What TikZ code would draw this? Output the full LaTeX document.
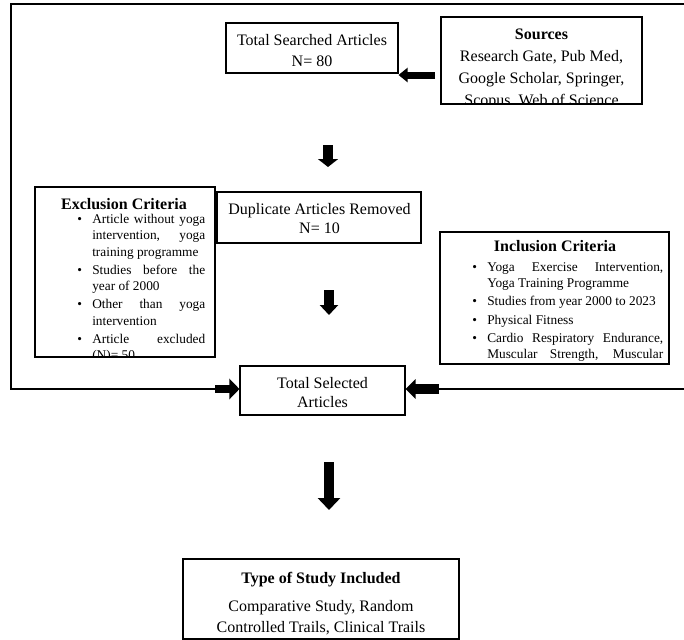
\documentclass[tikz,border=0pt]{standalone}
\usepackage{fontspec}
\setmainfont{Liberation Serif}
\usetikzlibrary{arrows.meta}
\newcommand\critem[1]{\par\noindent\hangindent=11.25pt\hangafter=1\makebox[11.25pt][l]{\textbullet}#1\par}
\begin{document}
\begin{tikzpicture}[x=0.75pt,y=-0.75pt,
  box/.style={draw=black, line width=0.8pt, rectangle, inner sep=0pt},
  frameline/.style={draw=black, line width=1.1pt},
  txt/.style={inner sep=0pt, font=\fontsize{12}{15.75}\selectfont, align=center, anchor=north},
  titletxt/.style={inner sep=0pt, font=\fontsize{12}{14}\selectfont\bfseries, anchor=north},
  listtxt/.style={inner sep=0pt, font=\fontsize{10}{12.3}\selectfont, anchor=north west, align=justify,
    execute at begin node={\tolerance=10000\hyphenpenalty=10000\parskip=1.3pt\relax}},
  blkarrow/.style n args={3}{draw=black, fill=black, line width=#1, -{Triangle[width=#2,length=#3]}}
]
\useasboundingbox (0,0) rectangle (684,639);

% boxes
\node[box, minimum width=129pt, minimum height=37.5pt] (tsa) at (312,48) {};
\node[box, minimum width=150.75pt, minimum height=65.25pt] (src) at (541.5,60.5) {};
\node[box, minimum width=153pt, minimum height=38.25pt] (dup) at (319,217.5) {};
\node[box, minimum width=135pt, minimum height=127.5pt] (exc) at (125,272) {};
\node[box, minimum width=171.75pt, minimum height=99pt] (inc) at (554.5,298) {};
\node[box, minimum width=123.75pt, minimum height=36.75pt] (tsel) at (322.5,390.5) {};
\node[box, minimum width=207pt, minimum height=60pt] (tos) at (321,599) {};

% box texts
\node[txt] (tsat) at (312,34.5) {Total Searched Articles\\N= 80};
\node[txt, font=\fontsize{12}{14.25}\selectfont] (dupt) at (319.5,203.5) {Duplicate Articles Removed\\N= 10};
\node[txt, font=\fontsize{12}{14.25}\selectfont] (tselt) at (322.5,377.5) {Total Selected\\Articles};
\node[txt] (tost) at (321,571.5) {\textbf{Type of Study Included}\\[5.25pt]Comparative Study, Random\\Controlled Trails, Clinical Trails};

% sources text (clipped)
\begin{scope}
  \clip (src.north west) rectangle (src.south east);
  \node[txt, font=\fontsize{12}{16.5}\selectfont] (srct) at (541.5,28.5) {\textbf{Sources}\\Research Gate, Pub Med,\\Google Scholar, Springer,\\Scopus, Web of Science};
\end{scope}

% exclusion
\node[titletxt] (exct) at (124,198.5) {Exclusion Criteria};
\begin{scope}
  \clip (exc.north west) rectangle (exc.south east);
  \node[listtxt, text width=96pt] (excl) at (77,205) {\critem{Article without yoga\linebreak intervention, yoga\linebreak training programme}%
    \critem{Studies before the\linebreak year of 2000}%
    \critem{Other than yoga\linebreak intervention}%
    \critem{Article excluded\linebreak (N)= 50}};
\end{scope}

% inclusion
\node[titletxt] (inct) at (555,240.5) {Inclusion Criteria};
\begin{scope}
  \clip (inc.north west) rectangle (inc.south east);
  \node[listtxt, text width=143.25pt] (incl) at (472,253) {\critem{Yoga Exercise Intervention,\linebreak Yoga Training Programme}%
    \critem{Studies from year 2000 to 2023}%
    \critem{Physical Fitness}%
    \critem{Cardio Respiratory Endurance,\linebreak Muscular Strength, Muscular\linebreak\mbox{}}};
\end{scope}

% outer frame
\coordinate (la) at (215,389);
\coordinate (ra) at (439,389);
\draw[frameline] (684,4) -| (11,389) -- (la);
\draw[frameline] (684,389) -- (ra);

% arrows
\coordinate (a1) at (435,75);
\draw[blkarrow={5.25pt}{10.5pt}{6.75pt}] (a1) -- (tsa.east |- a1);

\coordinate (d1a) at (328,145);
\coordinate (d1b) at (328,167);
\draw[blkarrow={7.5pt}{15pt}{6pt}] (d1a) -- (d1b);

\coordinate (d2a) at (329,290);
\coordinate (d2b) at (329,315);
\draw[blkarrow={7.5pt}{13.5pt}{7.5pt}] (d2a) -- (d2b);

\draw[blkarrow={6pt}{15pt}{7.5pt}] (la) -- (tsel.west |- la);
\draw[blkarrow={7.5pt}{14.25pt}{7.5pt}] (ra) -- (tsel.east |- ra);

\coordinate (d3a) at (329,462);
\coordinate (d3b) at (329,510);
\draw[blkarrow={7.5pt}{16.5pt}{9pt}] (d3a) -- (d3b);
\end{tikzpicture}
\end{document}
